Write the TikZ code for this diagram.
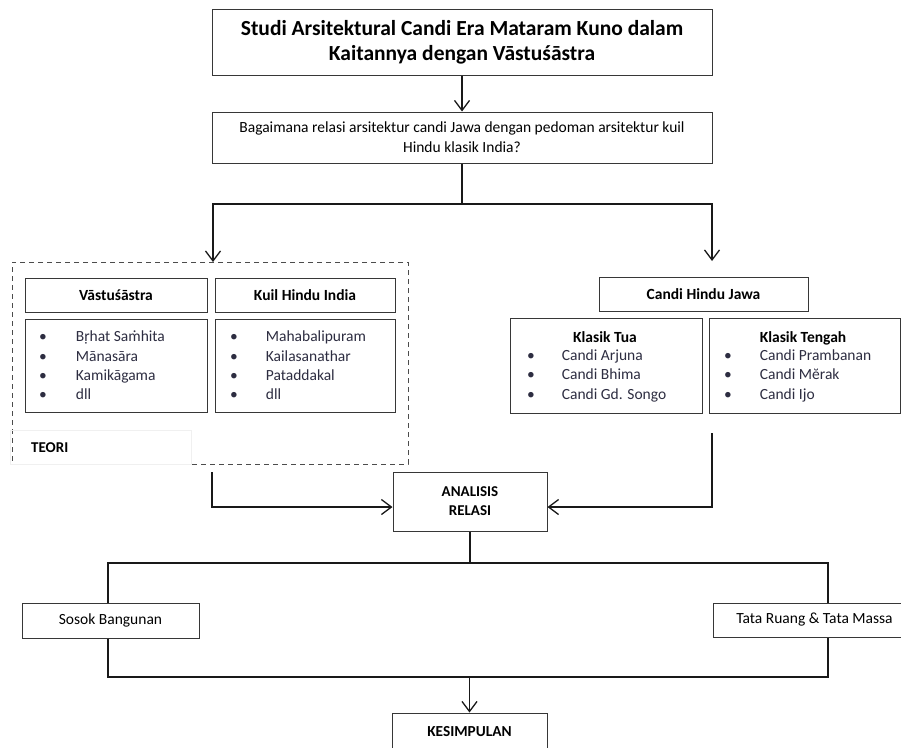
\documentclass[tikz,border=0pt]{standalone}
\usepackage{fontspec}
\setmainfont{Carlito}
\usetikzlibrary{arrows.meta,shadows,calc}
\definecolor{listc}{RGB}{45,45,65}
\definecolor{boxc}{RGB}{55,55,55}
\begin{document}
\begin{tikzpicture}[x=1pt,y=-1pt,
  box/.style={draw=boxc,line width=1pt,fill=white,inner sep=0pt,align=center},
  shbox/.style={box,drop shadow={shadow xshift=1.4pt,shadow yshift=-1.4pt,fill=black!80,opacity=1}},
  txt/.style={inner sep=0pt,align=left,anchor=west},
  conn/.style={line width=1.5pt,draw=black!90},
  arr/.style={conn,-{Straight Barb[length=10pt,width=15pt,line width=1.3pt]}},
  big/.style={font=\fontsize{21.5}{25}\selectfont\bfseries},
  mid/.style={font=\fontsize{15.5}{20}\selectfont},
  midb/.style={font=\fontsize{15.5}{19}\selectfont\bfseries},
  lst/.style={txt,font=\fontsize{15.5}{19.3}\selectfont,text=listc},
]
\useasboundingbox (0,0) rectangle (901,747);
\begin{scope}
\clip (0,0) rectangle (901,747);
% top boxes
\node[box,big,minimum width=500pt,minimum height=66pt] (title) at (462,42)
  {Studi Arsitektural Candi Era Mataram Kuno dalam\\Kaitannya dengan Vāstuśāstra};
\node[box,mid,minimum width=500pt,minimum height=51pt] (q) at (462,137.5)
  {Bagaimana relasi arsitektur candi Jawa dengan pedoman arsitektur kuil\\Hindu klasik India?};

% teori dashed frame
\node[draw=black!70,line width=1pt,dash pattern=on 5pt off 4pt,minimum width=396pt,minimum height=202pt,inner sep=0pt] (teori) at (210,363) {};
\node[draw=black!6,line width=0.8pt,minimum width=181pt,minimum height=34pt,inner sep=0pt] (teorilbl) at (100.5,447) {};
\node[txt,font=\fontsize{15}{18}\selectfont\bfseries] (teorit) at (31,448) {TEORI};

\node[shbox,midb,minimum width=182pt,minimum height=34pt] (vh) at (116,295) {Vāstuśāstra};
\node[shbox,midb,minimum width=180pt,minimum height=34pt] (kh) at (305,295) {Kuil Hindu India};
\node[shbox,minimum width=182pt,minimum height=93pt] (vl) at (116,365.5) {};
\node[shbox,minimum width=180pt,minimum height=93pt] (kl) at (305,365.5) {};
\node[lst] (vlt) at (39,367) {\begin{tabular}{@{}l@{\hspace{29pt}}l@{}}
  \textbullet & Bṛhat Saṁhita\\ \textbullet & Mānasāra\\ \textbullet & Kamikāgama\\ \textbullet & dll\end{tabular}};
\node[lst] (klt) at (230,367) {\begin{tabular}{@{}l@{\hspace{28pt}}l@{}}
  \textbullet & Mahabalipuram\\ \textbullet & Kailasanathar\\ \textbullet & Pataddakal\\ \textbullet & dll\end{tabular}};

% candi hindu jawa
\node[box,midb,minimum width=209pt,minimum height=34pt] (cj) at (703.5,294) {Candi Hindu Jawa};
\node[shbox,minimum width=192pt,minimum height=95pt] (kt) at (606,365.5) {};
\node[shbox,minimum width=191pt,minimum height=95pt] (ktg) at (804.5,365.5) {};
\node[midb,inner sep=0pt,anchor=base] (ktt) at (605,342) {Klasik Tua};
\node[midb,inner sep=0pt,anchor=base] (ktgt) at (803,342) {Klasik Tengah};
\node[lst] (ktl) at (527,376) {\begin{tabular}{@{}l@{\hspace{27pt}}l@{}}
  \textbullet & Candi Arjuna\\ \textbullet & Candi Bhima\\ \textbullet & Candi Gd. Songo\end{tabular}};
\node[lst] (ktgl) at (724,376) {\begin{tabular}{@{}l@{\hspace{28pt}}l@{}}
  \textbullet & Candi Prambanan\\ \textbullet & Candi Mĕrak\\ \textbullet & Candi Ijo\end{tabular}};

% analysis
\node[box,font=\fontsize{15}{19}\selectfont\bfseries,minimum width=154pt,minimum height=59pt] (an) at (470,501.5) {ANALISIS\\RELASI};
\node[box,mid,minimum width=177pt,minimum height=35pt] (sb) at (110.5,620.5) {Sosok Bangunan};
\node[box,mid,minimum width=203pt,minimum height=34pt] (tr) at (814.5,620) {Tata Ruang \& Tata Massa};
\node[box,font=\fontsize{15.3}{19}\selectfont\bfseries,minimum width=155pt,minimum height=38pt] (ks) at (469.5,732) {KESIMPULAN};

% connectors
\draw[arr] (title.south) -- (q.north);
\coordinate (split) at (462,204);
\coordinate (rtip) at (712,261);
\coordinate (ltip) at (213,262);
\draw[conn] (q.south) -- (split);
\draw[arr] (split) -| (ltip);
\draw[arr] (split) -| (rtip);

\coordinate (lstart) at (212,472);
\coordinate (rstart) at (712,433);
\draw[arr] (lstart) |- ([yshift=-5.5pt]an.west);
\draw[arr] (rstart) |- ([yshift=-5.5pt]an.east);

\coordinate (bl) at (108,563);
\coordinate (br) at (828,563);
\coordinate (bl2) at (108,677);
\coordinate (br2) at (828,677);
\draw[conn] (an.south) -- (an.south |- bl);
\draw[conn] (sb.north -| bl) -- (bl) -- (br) -- (tr.north -| br);
\draw[conn] (sb.south -| bl) -- (bl2) -- (br2) -- (tr.south -| br);
\draw[arr] (ks.north |- bl2) -- (ks.north);
\end{scope}
\end{tikzpicture}
\end{document}
